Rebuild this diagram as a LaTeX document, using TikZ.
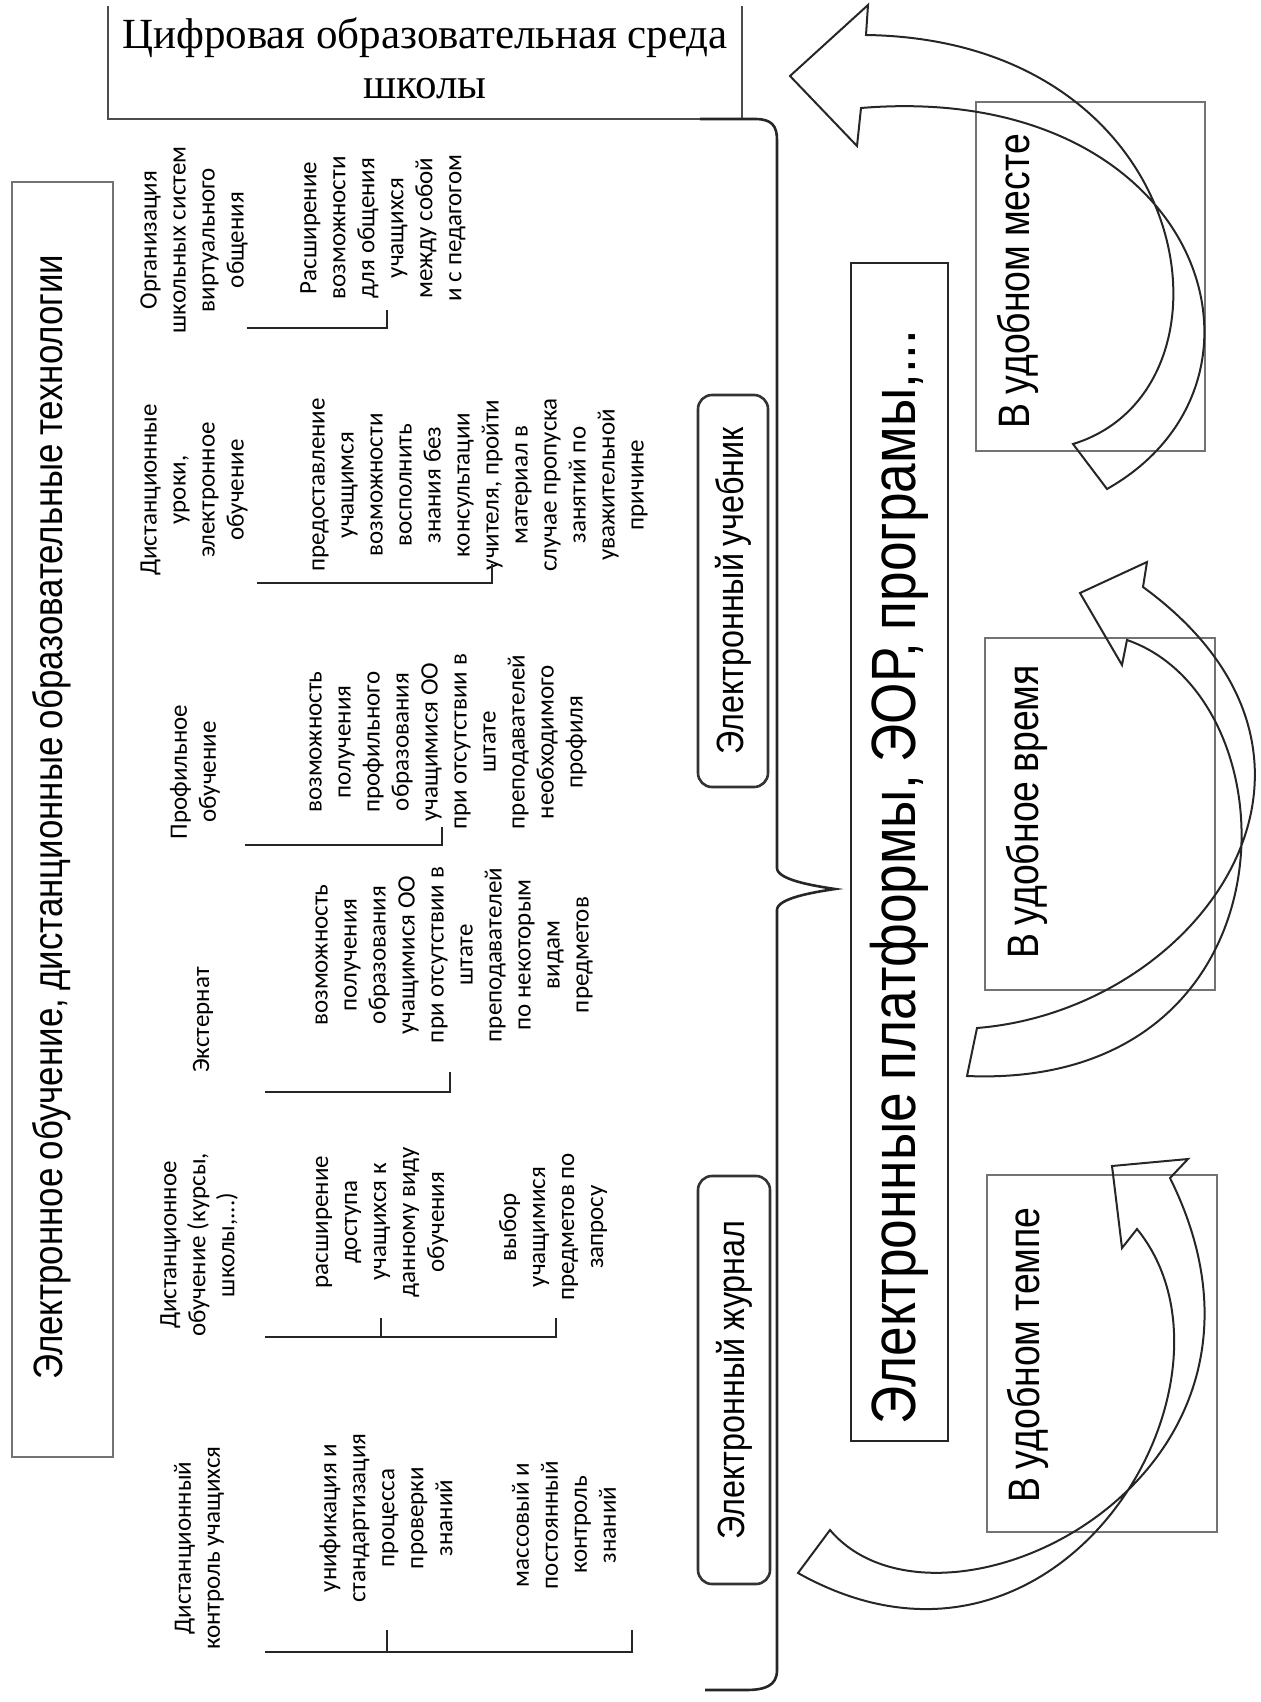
\documentclass[tikz,border=0pt]{standalone}
\usepackage{fontspec}
\setmainfont{Carlito}
\newfontfamily\narrowfont[FakeStretch=0.85, WordSpace=0.85]{Liberation Sans}
\newfontfamily\timesfont{Liberation Serif}

\begin{document}
\begin{tikzpicture}[x=0.5pt, y=-0.5pt]
	\tikzstyle{Small} = [rotate=90, align=center, inner sep=0pt, font=\fontsize{12.5}{14.5}\selectfont]
	\tikzstyle{Big} = [rotate=90, inner sep=0pt, font=\narrowfont\fontsize{22}{26}\selectfont]
	\tikzstyle{Tab} = [draw=black!80, line width=1.3pt, rounded corners=7pt, rotate=90, inner sep=0pt, font=\narrowfont\fontsize{19}{22}\selectfont]
	\tikzstyle{Place} = [draw=black!55, line width=0.6pt]
	\tikzstyle{Bracket} = [line width=1.3pt, black!85]
	\tikzstyle{Sweep} = [line width=1pt, black!85]

	\useasboundingbox (0,0) rectangle (1261,1702);

	% school box
	\draw[black!70, line width=0.8pt] (108,6) -- (108,119) -- (742,119) -- (742,6);
	\node[name=school, align=center, inner sep=0pt, font=\timesfont\fontsize{21.5}{25}\selectfont] at (425,58) {Цифровая образовательная среда\\школы};

	% e-learning box
	\draw[Place] (12,182) rectangle (113,1457);
	\node[name=elearn, Big, font=\narrowfont\fontsize{20.5}{24}\selectfont] at (52,817) {Электронное обучение, дистанционные образовательные технологии};

	% headings
	\node[name=h1, Small] at (194,240) {Организация\\школьных систем\\виртуального\\общения};
	\node[name=h2, Small] at (194,490) {Дистанционные\\уроки,\\электронное\\обучение};
	\node[name=h3, Small] at (195,772) {Профильное\\обучение};
	\node[name=h4, Small] at (203,1020) {Экстернат};
	\node[name=h5, Small] at (199,1245) {Дистанционное\\обучение (курсы,\\школы,...)};
	\node[name=h6, Small] at (199,1548) {Дистанционный\\контроль учащихся};

	% items
	\node[name=i1, Small] at (383,228) {Расширение\\возможности\\для общения\\учащихся\\между собой\\и с педагогом};
	\node[name=i2, Small] at (480,485) {предоставление\\учащимся\\возможности\\восполнить\\знания без\\консультации\\учителя, пройти\\материал в\\случае пропуска\\занятий по\\уважительной\\причине};
	\node[name=i3, Small] at (448,742) {возможность\\получения\\профильного\\образования\\учащимися ОО\\при отсутствии в\\штате\\преподавателей\\необходимого\\профиля};
	\node[name=i4, Small] at (454,955) {возможность\\получения\\образования\\учащимися ОО\\при отсутствии в\\штате\\преподавателей\\по некоторым\\видам\\предметов};
	\node[name=i5, Small] at (382,1222) {расширение\\доступа\\учащихся к\\данному виду\\обучения};
	\node[name=i6, Small] at (553,1227) {выбор\\учащимися\\предметов по\\запросу};
	\node[name=i7, Small] at (386,1518) {унификация и\\стандартизация\\процесса\\проверки\\знаний};
	\node[name=i8, Small] at (564,1525) {массовый и\\постоянный\\контроль\\знаний};

	% brackets
	\draw[Bracket] (247,328) -- (387,328) -- (387,310);
	\draw[Bracket] (257,583) -- (492,583) -- (492,564);
	\draw[Bracket] (245,845) -- (442,845) -- (442,827);
	\draw[Bracket] (265,1092) -- (450,1092) -- (450,1072);
	\draw[Bracket] (265,1337) -- (556,1337) -- (556,1318);
	\draw[Bracket] (381,1337) -- (381,1318);
	\draw[Bracket] (265,1652) -- (632,1652) -- (632,1630);
	\draw[Bracket] (387,1652) -- (387,1630);

	% brace
	\draw[Bracket] (700,119) -- (755,119) .. controls (772,119) and (777,126) .. (777,140) -- (777,868)
		.. controls (777,880) and (815,886) .. (835,889) .. controls (815,892) and (777,898) .. (777,910)
		-- (777,1670) .. controls (777,1686) and (765,1690) .. (745,1690) -- (705,1690);

	% textbook and journal
	\node[name=textbook, Tab, minimum width=196pt, minimum height=35pt] at (733,591) {Электронный учебник};
	\node[name=journal, Tab, minimum width=204pt, minimum height=36pt] at (734,1380) {Электронный журнал};

	% platforms
	\node[name=platform, draw=black!85, line width=1.3pt, rotate=90, inner ysep=0pt, inner xsep=8.5pt, text width=572pt, align=flush left, minimum height=48.5pt, font=\narrowfont\fontsize{31.3}{35}\selectfont] at (899.5,852) {Электронные платформы, ЭОР, програмы,...};

	% place, time, pace
	\draw[Place] (976,102) rectangle (1205,451);
	\node[name=place, Big] at (1018,281) {В удобном месте};
	\draw[Place] (985,638) rectangle (1215,990);
	\node[name=time, Big] at (1027,812) {В удобное время};
	\draw[Place] (987,1175) rectangle (1217,1532);
	\node[name=pace, Big] at (1028,1355) {В удобном темпе};

	% curved arrows
	\draw[Sweep] (1073,444) .. controls (1250,390) and (1200,40) .. (866,35) -- (868,5) -- (790,76) -- (857,146) -- (861,108)
		.. controls (1200,80) and (1300,380) .. (1107,489) -- cycle;
	\draw[Sweep] (977,1028) .. controls (1200,1010) and (1380,760) .. (1143,587) -- (1147,562) -- (1080,593) -- (1122,665) -- (1127,640)
		.. controls (1300,700) and (1300,1090) .. (967,1076) -- cycle;
	\draw[Sweep] (830,1530) .. controls (940,1660) and (1320,1480) .. (1170,1178) -- (1188,1159) -- (1112,1166) -- (1122,1248) -- (1137,1229)
		.. controls (1260,1380) and (1060,1720) .. (798,1573) -- cycle;
\end{tikzpicture}
\end{document}
